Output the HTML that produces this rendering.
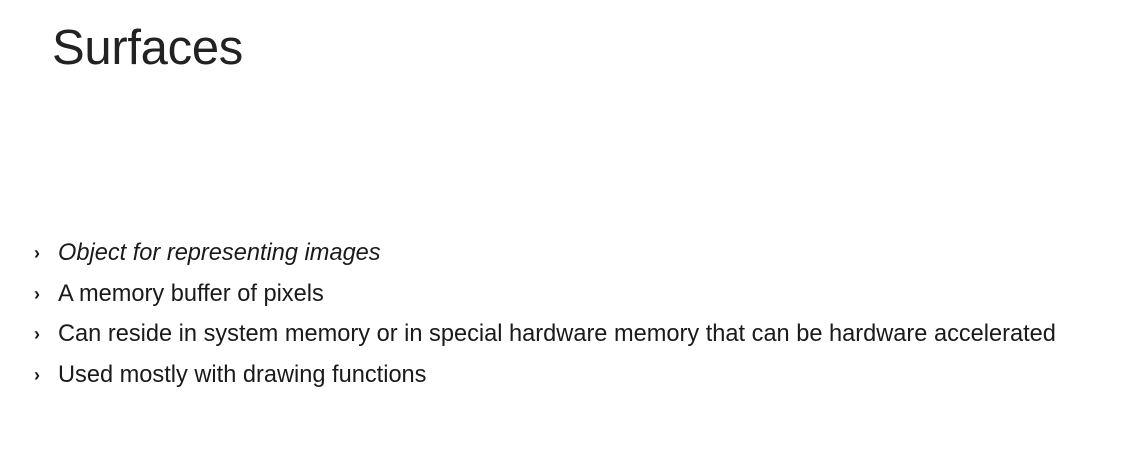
<!DOCTYPE html>
<html>
<head>
<meta charset="utf-8">
<style>
  html,body{margin:0;padding:0;background:#fff;}
  body{width:1123px;height:467px;position:relative;overflow:hidden;font-family:"Liberation Sans",sans-serif;color:#1a1a1a;}
  .title{position:absolute;left:52px;top:18px;font-size:49px;line-height:60px;font-weight:normal;letter-spacing:-0.3px;color:#222;}
  .b{position:absolute;left:0;height:30px;line-height:30px;font-size:23.6px;white-space:nowrap;}
  .b .m{position:absolute;left:34px;top:0;font-size:18px;font-weight:bold;}
  .b .t{position:absolute;left:58px;top:0;}
  .i{font-style:italic;}
</style>
</head>
<body>
  <div class="title">Surfaces</div>
  <div class="b" style="top:238px"><span class="m">›</span><span class="t i">Object for representing images</span></div>
  <div class="b" style="top:279px"><span class="m">›</span><span class="t">A memory buffer of pixels</span></div>
  <div class="b" style="top:319px"><span class="m">›</span><span class="t">Can reside in system memory or in special hardware memory that can be hardware accelerated</span></div>
  <div class="b" style="top:360px"><span class="m">›</span><span class="t">Used mostly with drawing functions</span></div>
</body>
</html>
